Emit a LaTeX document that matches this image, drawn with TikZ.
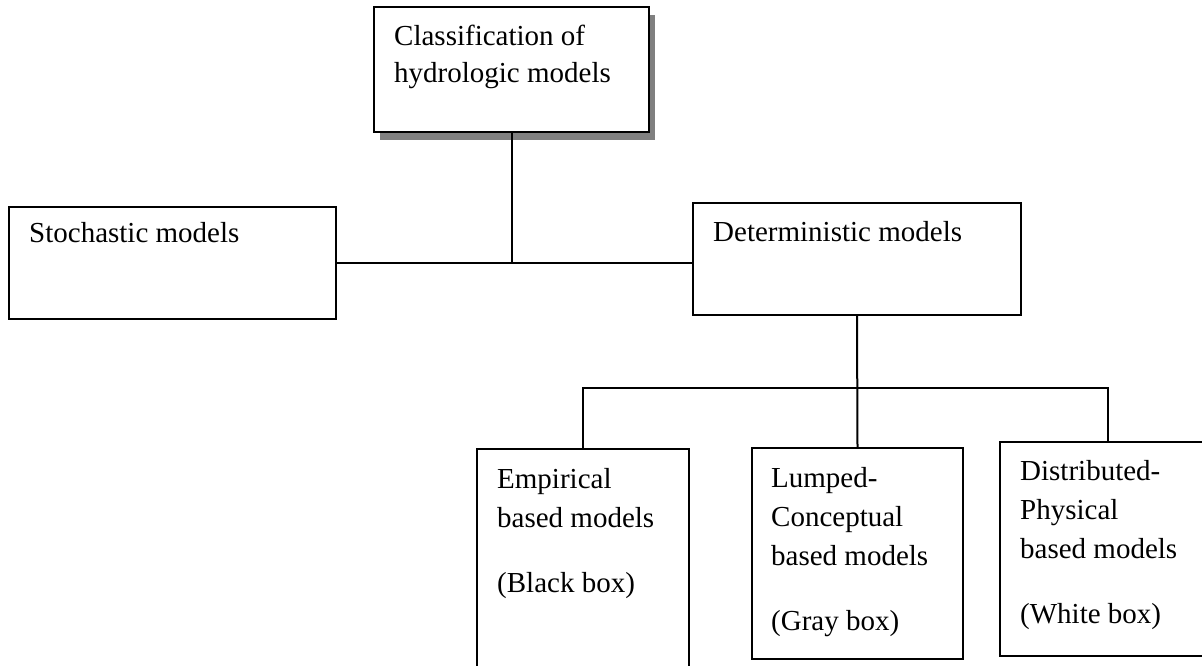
\documentclass[tikz,border=0pt]{standalone}
\usepackage{fontspec}
\setmainfont{Liberation Serif}
\usetikzlibrary{positioning,shadows}

\begin{document}
\begin{tikzpicture}[
    x=1pt, y=-1pt,
    every node/.style={font=\fontsize{29}{39}\selectfont},
    box/.style={rectangle, draw, line width=2pt, fill=white, inner sep=0pt},
    boxtext/.style={align=left, inner sep=0pt},
    link/.style={line width=2pt}
]
\useasboundingbox (0,0) rectangle (1202,666);

% Root
\node[box, minimum width=275pt, minimum height=125pt,
      drop shadow={shadow xshift=6pt, shadow yshift=-8pt, fill=black!50, opacity=1}] (root) at (511.5,69.5) {};
\node[boxtext, below right=19pt and 21pt of root.north west] (roottext) {Classification of\\[-2pt]hydrologic models};

% First level
\node[box, minimum width=327pt, minimum height=112pt] (stoch) at (172.5,263) {};
\node[boxtext, below right=16pt and 21pt of stoch.north west] (stochtext) {Stochastic models};
\node[box, minimum width=328pt, minimum height=112pt] (det) at (857,259) {};
\node[boxtext, below right=19pt and 21pt of det.north west] (dettext) {Deterministic models};

% Second level
\node[box, minimum width=212pt, minimum height=241pt] (emp) at (583,569.5) {};
\node[boxtext, below right=20pt and 21pt of emp.north west] (emptext) {Empirical\\based models\\[26pt](Black box)};
\node[box, minimum width=211pt, minimum height=211pt] (lump) at (857.5,553.5) {};
\node[boxtext, below right=20pt and 20pt of lump.north west] (lumptext) {Lumped-\\Conceptual\\based models\\[26pt](Gray box)};
\node[box, minimum width=216pt, minimum height=214pt] (dist) at (1108,549) {};
\node[boxtext, below right=19pt and 21pt of dist.north west] (disttext) {Distributed-\\Physical\\based models\\[26pt](White box)};

% Connectors
\draw[link] (root.south) -- (root.south |- stoch.east);
\draw[link] (stoch.east) -- (stoch.east -| det.west);
\coordinate[below=72pt of det.south] (split);
\draw[link] (det.south) -- (lump.north);
\draw[link] (emp.north) |- (split) -| (dist.north);

\end{tikzpicture}
\end{document}
